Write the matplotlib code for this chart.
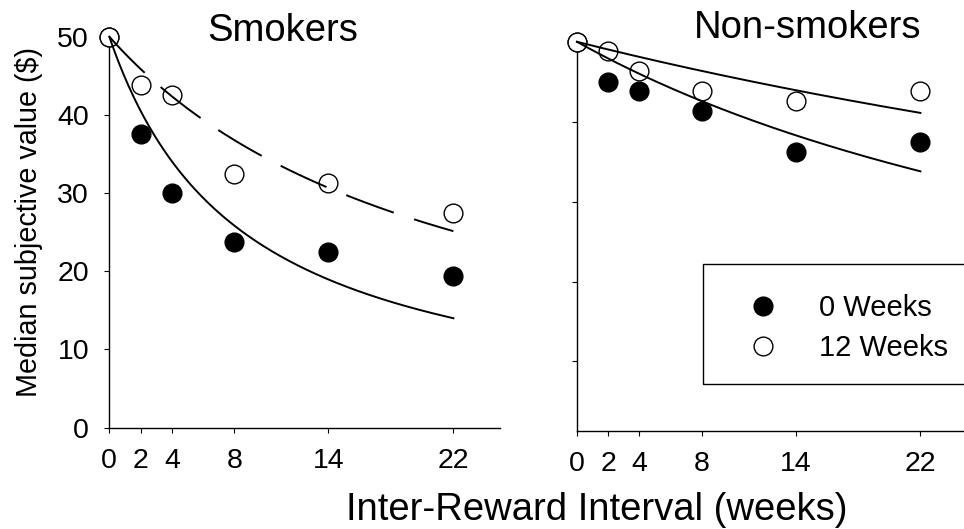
import numpy as np
import matplotlib
matplotlib.use('Agg')
import matplotlib.pyplot as plt
from matplotlib.patches import Rectangle

plt.rcParams['font.family'] = ['Liberation Sans', 'DejaVu Sans']

# data
weeks = [0, 2, 4, 8, 14, 22]
smokers_0wk = [50, 37.5, 30.0, 23.8, 22.5, 19.4]
smokers_12wk = [50, 43.8, 42.5, 32.5, 31.3, 27.5]
nonsmokers_0wk = [50, 45.0, 43.8, 41.3, 36.2, 37.5]
nonsmokers_12wk = [50, 48.9, 46.4, 43.8, 42.6, 43.8]

# hyperbolic fits V = A / (1 + kD), k
amount = 50
k_smokers_0wk = 0.117
k_smokers_12wk = 0.045
k_nonsmokers_0wk = 0.0218
k_nonsmokers_12wk = 0.00984

tick_weeks = [0, 2, 4, 8, 14, 22]
ytick_vals = [0, 10, 20, 30, 40, 50]

W, H = 964, 529
fig = plt.figure(figsize=(W / 100, H / 100), dpi=100)

ax1 = fig.add_axes([109.3 / W, 1 - 427.6 / H, 25 * 15.64 / W, (427.6 - 36.7) / H])
ax2 = fig.add_axes([577 / W, 1 - 431 / H, 25 * 15.61 / W, (431 - 41.8) / H])

d = np.linspace(0, 22, 200)

def draw(ax, y0, y12, k0, k12, dashed12):
    ax.plot(weeks, y0, ls='none', marker='o', ms=13.5, mfc='black', mec='black',
            mew=1, clip_on=False, zorder=3, label='0 Weeks')
    ax.plot(weeks, y12, ls='none', marker='o', ms=13.5, mfc='white', mec='black',
            mew=1, clip_on=False, zorder=3, label='12 Weeks')
    ax.plot(d, amount / (1 + k0 * d), color='black', lw=1.4, zorder=4, clip_on=False)
    ls = (0, (26, 11)) if dashed12 else '-'
    ax.plot(d, amount / (1 + k12 * d), color='black', lw=1.4, ls=ls, zorder=4, clip_on=False)
    ax.set_xlim(0, 25)
    ax.set_xticks(tick_weeks)
    ax.set_yticks(ytick_vals)
    for s in ['top', 'right']:
        ax.spines[s].set_visible(False)
    for s in ['left', 'bottom']:
        ax.spines[s].set_linewidth(1.0)
    ax.tick_params(direction='out', length=3.6, width=0.8, pad=11, labelsize=20.5)

draw(ax1, smokers_0wk, smokers_12wk, k_smokers_0wk, k_smokers_12wk, True)
ax1.set_ylim(0, 50)

draw(ax2, nonsmokers_0wk, nonsmokers_12wk, k_nonsmokers_0wk, k_nonsmokers_12wk, False)
ax2.set_ylim(1.3, 50)
ax2.set_yticklabels([])

fig.text(282.5 / W, 1 - 40.7 / H, 'Smokers', ha='center', va='baseline', fontsize=27.5)
fig.text(807.3 / W, 1 - 38.3 / H, 'Non-smokers', ha='center', va='baseline', fontsize=27.5)
fig.text(596.8 / W, 1 - 520 / H, 'Inter-Reward Interval (weeks)', ha='center', va='baseline', fontsize=27.5)
fig.text(29 / W, 1 - 221.7 / H, 'Median subjective value ($)', rotation=90,
         ha='center', va='center', fontsize=20.7)

# legend box
fig.patches.append(Rectangle((702.7 / W, 1 - 384 / H), 0.3, (384 - 264.3) / H,
                             transform=fig.transFigure, fill=False, ec='black', lw=1.0))
ax2.legend(loc='center left', bbox_to_anchor=(734.2 / W, 1 - 328 / H),
           bbox_transform=fig.transFigure, frameon=False, fontsize=21,
           borderpad=0, borderaxespad=0, handlelength=2.0, handletextpad=0.9,
           labelspacing=0.42, markerscale=1.0)

fig.savefig('out.png', dpi=100)
